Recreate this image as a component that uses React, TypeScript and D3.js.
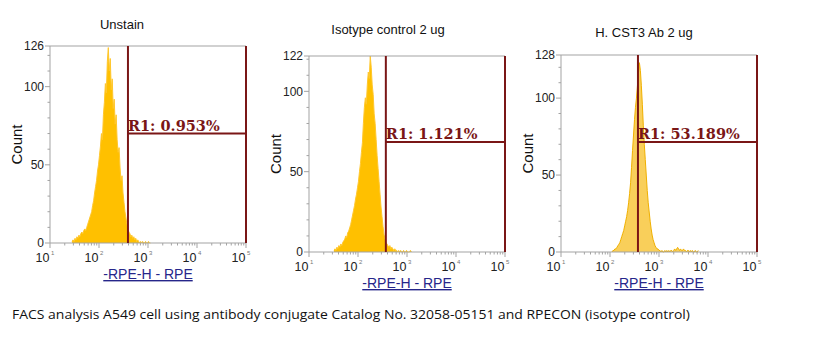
import React from "react";
import * as d3 from "d3";

// ---------- data ----------
const titles = ["Unstain", "Isotype control 2 ug", "H. CST3 Ab 2 ug"];
const yMaxes = [126, 122, 128];
const yMajorTicks = [0, 50, 100];
const gateLabels = ["R1: 0.953%", "R1: 1.121%", "R1: 53.189%"];
const gateStarts = [390, 370, 372];
const gateEnds = [100000, 100000, 100000];
const gateLevels = [70, 68.5, 71.5];
const xTickExponents = [1, 2, 3, 4, 5];
const xAxisLabel = "-RPE-H - RPE";
const yAxisLabel = "Count";
const caption =
  "FACS analysis A549 cell using antibody conjugate Catalog No. 32058-05151 and RPECON (isotype control)";

// histogram channels: log10 start of first bin, bin width in decades
const binStep = 0.02;
const histStarts = [1.45, 1.51, 2.04];

const unstainCounts = [
  1, 2, 1, 3, 2, 4, 3, 5, 4, 6, 7, 6, 8, 9, 8, 10, 12, 14, 16, 18, 20, 24, 27, 32, 36, 40, 46, 50,
  56, 62, 70, 66, 82, 90, 102, 96, 116, 125, 110, 118, 98, 105, 86, 92, 76, 82, 66, 58, 61, 48, 40,
  43, 32, 26, 20, 16, 12, 9, 7, 6, 4, 5, 3, 4, 2, 3, 1, 2, 1, 0, 1, 0, 1, 0, 0, 1, 0, 0, 1, 0, 0,
];
const isotypeCounts = [
  1, 2, 1, 3, 2, 4, 3, 5, 4, 6, 7, 8, 10, 9, 12, 13, 15, 17, 20, 23, 26, 29, 33, 36, 40, 44, 50, 55,
  62, 68, 80, 90, 96, 92, 104, 112, 108, 122, 115, 104, 98, 86, 80, 70, 60, 52, 44, 36, 28, 22, 16,
  11, 8, 6, 5, 4, 3, 4, 2, 3, 2, 1, 2, 1, 1, 0, 1, 0, 1, 0, 0, 1, 0, 0, 1, 0, 0, 0, 1, 0,
];
const cst3Counts = [
  0, 1, 1, 2, 2, 3, 4, 5, 6, 8, 10, 12, 14, 17, 20, 23, 27, 32, 38, 45, 55, 66, 76, 86, 94, 100, 108,
  116, 123, 118, 108, 96, 82, 70, 60, 50, 40, 32, 26, 20, 15, 11, 8, 6, 4, 3, 2, 2, 1, 1, 0, 1, 0, 0,
  1, 0, 1, 0, 1, 0, 1, 1, 0, 1, 2, 1, 2, 3, 2, 1, 2, 1, 1, 2, 1, 1, 0, 1, 1, 0, 1, 0, 1, 0, 0, 1, 0,
  0, 1,
];
const histCounts = [unstainCounts, isotypeCounts, cst3Counts];

// ---------- layout ----------
const W = 818;
const H = 352;
const layout = [
  { left: 50, right: 246, top: 46, bottom: 243, titleX: 122, titleY: 29 },
  { left: 309, right: 505, top: 56, bottom: 252, titleX: 388, titleY: 34 },
  { left: 561, right: 757, top: 55, bottom: 252, titleX: 644, titleY: 37 },
];
const histFill = ["#FFC000", "#FFC000", "#F9CF5A"];
const histStroke = ["#FFC72C", "#FFC72C", "#F0B000"];
const axisColor = "#a3a3a3";
const gateColor = "#7a1616";
const sans = "'Liberation Sans', Arial, sans-serif";

function Panel({ i }: { i: number }) {
  const L = layout[i];
  const x = d3.scaleLog().domain([10, 1e5]).range([L.left, L.right]);
  const y = d3.scaleLinear().domain([0, yMaxes[i]]).range([L.bottom, L.top]);
  const pts = histCounts[i].map((c, k) => ({ v: Math.pow(10, histStarts[i] + k * binStep), c }));
  const area = d3
    .area<{ v: number; c: number }>()
    .x((d) => x(d.v))
    .y0(L.bottom)
    .y1((d) => y(d.c));
  const line = d3
    .line<{ v: number; c: number }>()
    .x((d) => x(d.v))
    .y((d) => y(d.c));

  const minorY = d3.range(10, yMaxes[i], 10).filter((v) => v % 50 !== 0);
  const majorY = [...yMajorTicks, yMaxes[i]];
  const minorX: number[] = [];
  for (let e = 1; e < 5; e++) for (let m = 2; m <= 9; m++) minorX.push(m * Math.pow(10, e));

  const gx0 = x(gateStarts[i]);
  const gx1 = x(gateEnds[i]);
  const gy = y(gateLevels[i]);
  const cx = (L.left + L.right) / 2;

  return (
    <g>
      <text x={L.titleX} y={L.titleY} textAnchor="middle" fontFamily={sans} fontSize={13} fill="#111">
        {titles[i]}
      </text>
      {/* histogram */}
      <path d={area(pts) || ""} fill={histFill[i]} />
      <path d={line(pts) || ""} fill="none" stroke={histStroke[i]} strokeWidth={1} />
      {/* frame */}
      <line x1={L.left} x2={L.right} y1={L.top} y2={L.top} stroke={axisColor} />
      <line x1={L.left} x2={L.left} y1={L.top} y2={L.bottom} stroke={axisColor} />
      <line x1={L.left} x2={L.right} y1={L.bottom} y2={L.bottom} stroke={axisColor} />
      {/* y ticks */}
      {minorY.map((v) => (
        <line key={"my" + v} x1={L.left - 2.5} x2={L.left} y1={y(v)} y2={y(v)} stroke={axisColor} />
      ))}
      {majorY.map((v) => (
        <g key={"My" + v}>
          <line x1={L.left - 5} x2={L.left} y1={y(v)} y2={y(v)} stroke={axisColor} />
          <text
            x={L.left - 6}
            y={y(v)}
            dy="0.35em"
            textAnchor="end"
            fontFamily={sans}
            fontSize={12}
            fill="#222"
          >
            {v}
          </text>
        </g>
      ))}
      {/* x ticks */}
      {minorX.map((v) => (
        <line key={"mx" + v} x1={x(v)} x2={x(v)} y1={L.bottom} y2={L.bottom + 2.5} stroke={axisColor} />
      ))}
      {xTickExponents.map((e) => {
        const xx = x(Math.pow(10, e));
        return (
          <g key={"Mx" + e}>
            <line x1={xx} x2={xx} y1={L.bottom} y2={L.bottom + 5} stroke={axisColor} />
            <text x={xx - 0.5} y={L.bottom + 19} textAnchor="end" fontFamily={sans} fontSize={12.5} fill="#222">
              10
            </text>
            <text x={xx + 1} y={L.bottom + 12} fontFamily={sans} fontSize={6} fill="#777">
              {e}
            </text>
          </g>
        );
      })}
      {/* axis labels */}
      <text
        x={cx}
        y={L.bottom + 36}
        textAnchor="middle"
        fontFamily={sans}
        fontSize={14}
        fill="#26268a"
        textDecoration="underline"
      >
        {xAxisLabel}
      </text>
      <text
        transform={`translate(${L.left - 33},${(L.top + L.bottom) / 2}) rotate(-90)`}
        textAnchor="middle"
        dy="0.35em"
        fontFamily={sans}
        fontSize={15}
        fill="#111"
      >
        {yAxisLabel}
      </text>
      {/* gate */}
      <line x1={gx0} x2={gx0} y1={L.top} y2={L.bottom} stroke={gateColor} strokeWidth={2} />
      <line x1={gx1} x2={gx1} y1={L.top} y2={L.bottom} stroke={gateColor} strokeWidth={2} />
      <line x1={gx0} x2={gx1} y1={gy} y2={gy} stroke={gateColor} strokeWidth={2} />
      <text
        x={gx0}
        y={gy - 3}
        fontFamily="'DejaVu Serif', serif"
        fontWeight="bold"
        fontSize={14.5}
        fill={gateColor}
      >
        {gateLabels[i]}
      </text>
    </g>
  );
}

export default function App() {
  return (
    <svg
      width={W}
      height={H}
      viewBox={`0 0 ${W} ${H}`}
      style={{ position: "absolute", left: 0, top: 0, background: "#fff" }}
    >
      <rect width={W} height={H} fill="#fff" />
      {[0, 1, 2].map((i) => (
        <Panel key={i} i={i} />
      ))}
      <text
        x={12}
        y={319}
        fontFamily="'Open Sans', 'Noto Sans', sans-serif"
        fontSize={13}
        fill="#111"
        textLength={678}
        lengthAdjust="spacingAndGlyphs"
      >
        {caption}
      </text>
    </svg>
  );
}
